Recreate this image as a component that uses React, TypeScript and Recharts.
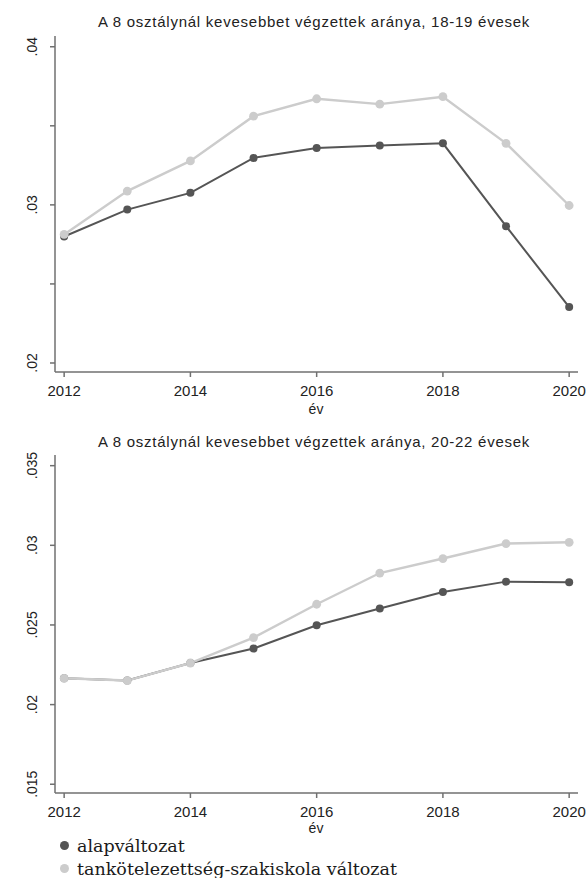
import { LineChart, Line, XAxis, YAxis } from 'recharts'

const years = [2012, 2013, 2014, 2015, 2016, 2017, 2018, 2019, 2020]
const xTicks = [2012, 2014, 2016, 2018, 2020]

// 18-19 évesek
const base1 = [0.0280, 0.0297, 0.03076, 0.03297, 0.03359, 0.03376, 0.03389, 0.02865, 0.02354]
const alt1 = [0.02813, 0.03087, 0.03278, 0.03561, 0.03671, 0.03637, 0.03684, 0.03389, 0.02996]
const yTicks1 = [0.02, 0.025, 0.03, 0.035, 0.04]
const yLabels1 = [0.02, 0.03, 0.04]

// 20-22 évesek
const base2 = [0.02165, 0.02151, 0.02261, 0.02352, 0.02498, 0.02603, 0.02707, 0.02772, 0.02768]
const alt2 = [0.02165, 0.02151, 0.02261, 0.02421, 0.0263, 0.02826, 0.02917, 0.03011, 0.03019]
const yTicks2 = [0.015, 0.02, 0.025, 0.03, 0.035]
const yLabels2 = [0.015, 0.02, 0.025, 0.03, 0.035]

const DARK = '#555555'
const LIGHT = '#cccccc'
const AXIS = '#707070'
const SANS = '"Liberation Sans", Arial, sans-serif'

function fmtY(v: number) {
  return String(v).replace(/^0/, '')
}

function makeTick(labels: number[]) {
  return (props: any) => {
    const { y, payload } = props
    if (!labels.includes(payload.value)) return <g />
    return (
      <text
        x={32}
        y={y}
        transform={`rotate(-90 32 ${y})`}
        textAnchor="middle"
        dy="0.35em"
        fontSize={14}
        fontFamily={SANS}
        fill="#222"
      >
        {fmtY(payload.value)}
      </text>
    )
  }
}

function Panel(props: {
  top: number
  title: string
  base: number[]
  alt: number[]
  yDomain: [number, number]
  yTicks: number[]
  yLabels: number[]
  marginTop: number
  xHeight: number
}) {
  const data = years.map((ev, i) => ({ ev, base: props.base[i], alt: props.alt[i] }))
  return (
    <div style={{ position: 'absolute', left: 0, top: props.top, width: 588, height: 400 }}>
      <div
        style={{
          position: 'absolute', left: 0, width: 628, top: 14, textAlign: 'center',
          fontFamily: SANS, fontSize: 15, lineHeight: '15px', letterSpacing: 0.75, color: '#222',
          whiteSpace: 'nowrap',
        }}
      >
        {props.title}
      </div>
      <LineChart
        width={588}
        height={400}
        data={data}
        margin={{ top: props.marginTop, right: 10, left: 10, bottom: 0 }}
      >
        <XAxis
          dataKey="ev"
          type="number"
          domain={[2011.855, 2020.14]}
          ticks={xTicks}
          height={props.xHeight}
          tickSize={5}
          tickMargin={8}
          stroke={AXIS}
          strokeWidth={1.5}
          tick={{ fontSize: 15, fontFamily: SANS, fill: '#222' }}
          interval={0}
        />
        <XAxis xAxisId="top" orientation="top" dataKey="ev" type="number" domain={[2011.855, 2020.14]}
          height={0} tick={false} tickLine={false} stroke={AXIS} strokeWidth={1.5} />
        <YAxis
          type="number"
          domain={props.yDomain}
          ticks={props.yTicks}
          width={45}
          tickSize={5}
          stroke={AXIS}
          strokeWidth={1.5}
          tick={makeTick(props.yLabels)}
          interval={0}
          allowDataOverflow
        />
        <YAxis yAxisId="right" orientation="right" domain={props.yDomain} width={0}
          tick={false} tickLine={false} stroke={AXIS} strokeWidth={1.5} />
        <Line
          dataKey="base"
          type="linear"
          stroke={DARK}
          strokeWidth={2}
          dot={{ r: 4, fill: DARK, stroke: DARK, strokeWidth: 0 }}
          isAnimationActive={false}
        />
        <Line
          dataKey="alt"
          type="linear"
          stroke={LIGHT}
          strokeWidth={2.4}
          dot={{ r: 4.4, fill: LIGHT, stroke: LIGHT, strokeWidth: 0 }}
          isAnimationActive={false}
        />
      </LineChart>
      <div
        style={{
          position: 'absolute', left: 296, width: 40, textAlign: 'center',
          top: props.marginTop + 367, fontFamily: SANS, fontSize: 14, lineHeight: '12px', color: '#222',
        }}
      >
        év
      </div>
    </div>
  )
}

export default function App() {
  return (
    <div style={{ position: 'absolute', left: 0, top: 0, width: 588, height: 878, background: '#fff' }}>
      <Panel
        top={0}
        title="A 8 osztálynál kevesebbet végzettek aránya, 18-19 évesek"
        base={base1}
        alt={alt1}
        yDomain={[0.01943, 0.04068]}
        yTicks={yTicks1}
        yLabels={yLabels1}
        marginTop={36}
        xHeight={28}
      />
      <Panel
        top={420}
        title="A 8 osztálynál kevesebbet végzettek aránya, 20-22 évesek"
        base={base2}
        alt={alt2}
        yDomain={[0.01445, 0.03567]}
        yTicks={yTicks2}
        yLabels={yLabels2}
        marginTop={35}
        xHeight={27}
      />
      <div style={{ position: 'absolute', left: 0, top: 834, fontFamily: '"DejaVu Serif", serif', fontSize: 17.5, color: '#1a1a1a' }}>
        <div style={{ display: 'flex', alignItems: 'center', height: 23 }}>
          <span style={{ display: 'inline-block', width: 9, height: 9, borderRadius: '50%', background: DARK, marginLeft: 60, marginRight: 8 }} />
          alapváltozat
        </div>
        <div style={{ display: 'flex', alignItems: 'center', height: 23 }}>
          <span style={{ display: 'inline-block', width: 9, height: 9, borderRadius: '50%', background: LIGHT, marginLeft: 60, marginRight: 8 }} />
          tankötelezettség-szakiskola változat
        </div>
      </div>
    </div>
  )
}
